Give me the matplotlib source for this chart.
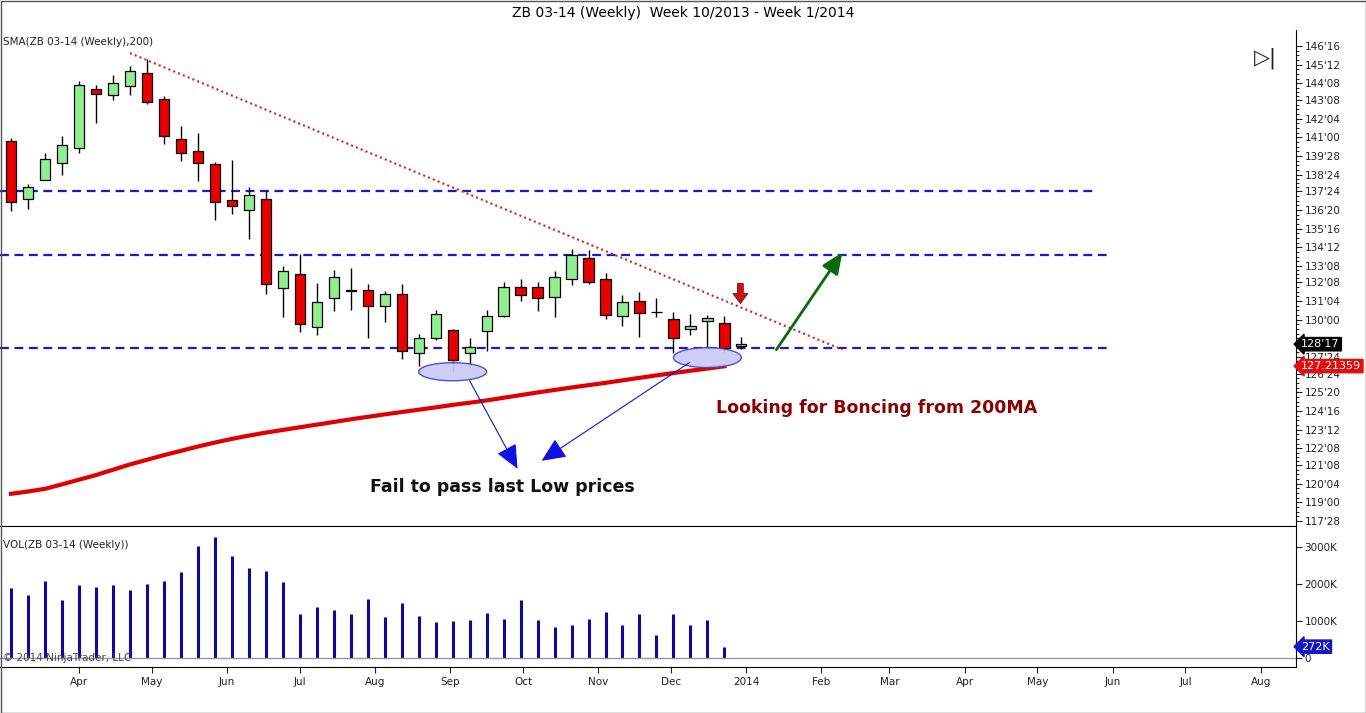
import matplotlib
matplotlib.use("Agg")
import matplotlib.pyplot as plt
import matplotlib.transforms as mtrans
from matplotlib.patches import Ellipse
import datetime as dt

# ---- data ----
opens  = [140.76,137.30,138.45,139.47,140.38,143.94,143.58,144.12,144.85,143.30,140.88,140.16,139.41,137.24,136.64,137.30,131.92,132.77,129.59,131.32,131.71,131.82,130.84,131.56,
          128.00,128.91,129.39,128.00,129.35,130.24,132.00,132.00,131.38,132.47,133.74,132.47,130.24,131.16,130.46,130.05,129.45,129.95,129.81,128.42]
closes = [137.10,138.00,139.72,140.56,144.14,143.64,144.25,144.99,143.14,141.11,140.08,139.47,137.10,136.88,137.50,132.17,132.97,129.75,131.08,132.61,131.80,130.84,131.56,128.14,
          128.91,130.36,127.58,128.36,130.24,132.00,131.50,131.32,132.61,133.88,132.27,130.30,131.10,130.42,130.46,128.91,129.61,130.12,128.28,128.53]
highs  = [140.98,138.17,140.08,141.07,144.39,144.14,144.75,145.29,145.75,143.48,141.67,141.27,139.51,139.62,138.00,137.74,133.27,133.98,132.21,133.03,133.15,132.13,131.76,132.17,
          129.15,130.60,129.45,128.89,130.60,132.27,132.43,132.27,132.97,134.28,134.22,132.83,131.52,131.70,131.30,130.46,130.36,130.26,130.20,128.99]
lows   = [136.56,136.70,138.41,138.71,140.06,141.87,143.24,143.54,142.99,140.62,139.57,138.37,136.03,136.39,134.88,131.56,130.19,129.25,129.11,130.52,130.60,128.91,129.85,127.64,
          127.24,128.79,126.93,127.18,128.10,130.15,131.16,130.52,130.15,132.11,132.13,130.06,129.61,128.95,130.15,127.98,129.09,128.30,128.08,128.24]
volumes_k = [1901,1694,2090,1559,1982,1928,1982,1847,2009,2090,2334,3036,3280,2748,2442,2361,2063,1198,1388,1306,1198,1604,1117,1496,
             1144,982,1009,1036,1225,1063,1577,1036,847,901,1063,1252,901,1198,631,1198,901,1036,306]
sma200 = [119.51,119.65,119.81,120.08,120.36,120.64,120.96,121.28,121.56,121.84,122.1,122.36,122.6,122.82,123.02,123.2,123.36,123.52,123.68,123.84,
          124.0,124.15,124.3,124.44,124.58,124.72,124.87,125.0,125.14,125.3,125.46,125.62,125.77,125.92,126.06,126.2,126.35,126.5,126.65,126.79,126.93,127.06,127.2]
levels = [137.74, 133.88, 128.32]
level_ends = [63.9, 64.8, 64.8]
trend = ([7.0, 48.94], [146.08, 128.2])
price_ticks = ["146'16","145'12","144'08","143'08","142'04","141'00","139'28","138'24","137'24","136'20","135'16","134'12",
               "133'08","132'08","131'04","130'00","128'28","127'24","126'24","125'20","124'16","123'12","122'08","121'08","120'04","119'00","117'28"]
hidden_ticks = ["128'28"]
vol_ticks = [0, 1000, 2000, 3000]
first_week = dt.date(2013, 3, 4)
month_labels = ["Apr","May","Jun","Jul","Aug","Sep","Oct","Nov","Dec","2014","Feb","Mar","Apr","May","Jun","Jul","Aug"]
month_dates = [dt.date(2013,m,1) for m in range(4,13)] + [dt.date(2014,m,1) for m in range(1,9)]

def p32(s):
    a, b = s.split("'")
    return int(a) + int(b)/32

W, H = 1366, 713
fig = plt.figure(figsize=(W/100, H/100), dpi=100)
fig.patch.set_facecolor("white")
ax = fig.add_axes([0, (H-526)/H, 1296/W, 496/H])
axv = fig.add_axes([0, (H-667)/H, 1296/W, 141/H], sharex=ax)
fig.text(0.5, 1-13/H, "ZB 03-14 (Weekly)  Week 10/2013 - Week 1/2014", ha="center", va="center", fontsize=10)

n = len(opens)
idx = list(range(n))
XL = (-0.647, 75.65)
for i in idx:
    o, c, h, l = opens[i], closes[i], highs[i], lows[i]
    ax.vlines(i, l, h, color="black", lw=1, zorder=3)
    col = "#90EE90" if c >= o else "#E80000"
    hgt = max(abs(c-o), 0.03)
    ax.bar(i, hgt, bottom=min(o, c), width=0.6, color=col, edgecolor="black", lw=0.9, zorder=4)
ax.plot(range(len(sma200)), sma200, color="#E00000", lw=3, zorder=5)
for lv, end in zip(levels, level_ends):
    ax.plot([XL[0], end], [lv, lv], color="#1A1ACC", lw=1.6, ls=(0, (4, 2.5)), zorder=2)
ax.plot(trend[0], trend[1], color="#E02020", lw=1.5, ls=(0, (1, 1.5)), zorder=2)

for cx, cy, w, hh in [(26.0, 126.87, 4.0, 1.09), (41.0, 127.72, 4.0, 1.2)]:
    ax.add_patch(Ellipse((cx, cy), w, hh, facecolor="#C8C8F4", edgecolor="#4040C0", lw=1, zorder=6, alpha=0.9))
ap = dict(arrowstyle="-|>,head_length=1.0,head_width=0.45", mutation_scale=15, lw=0.8, color="#1010E0", shrinkA=0, shrinkB=0)
ax.annotate("", xy=(29.82, 121.02), xytext=(27.0, 126.33), arrowprops=ap, zorder=7)
ax.annotate("", xy=(31.24, 121.5), xytext=(39.94, 127.42), arrowprops=ap, zorder=7)
ax.annotate("", xy=(48.94, 134.06), xytext=(45.06, 128.2),
            arrowprops=dict(arrowstyle="-|>,head_length=0.8,head_width=0.35", mutation_scale=16, lw=2, color="#0A6A0A", shrinkA=0, shrinkB=0))
ax.annotate("", xy=(42.94, 130.98), xytext=(42.94, 132.19),
            arrowprops=dict(arrowstyle="simple,head_width=0.9,head_length=0.6,tail_width=0.35", mutation_scale=12, fc="#D01010", ec="#801010", lw=0.6, shrinkA=0, shrinkB=0))
ax.text(28.94, 119.93, "Fail to pass last Low prices", ha="center", va="center", fontsize=12.5, fontweight="bold", color="#111111")
ax.text(50.94, 124.7, "Looking for Boncing from 200MA", ha="center", va="center", fontsize=12.5, fontweight="bold", color="#8B0000")
ax.text(0.002, 0.985, "SMA(ZB 03-14 (Weekly),200)", transform=ax.transAxes, ha="left", va="top", fontsize=7.5, color="#222222")
ax.text(0.985, 0.965, "\u25B7|", transform=ax.transAxes, ha="right", va="top", fontsize=15, color="#222222")

ax.set_xlim(*XL)
ax.set_ylim(117.57, 147.47)
ax.yaxis.tick_right()
tv = [p32(s) for s in price_ticks]
ax.set_yticks(tv)
ax.set_yticklabels(["" if s in hidden_ticks else s for s in price_ticks])
minor = []
for a, b in zip(tv[1:], tv[:-1]):
    minor += [a + (b-a)*k/4 for k in (1, 2, 3)]
ax.set_yticks(minor, minor=True)
ax.tick_params(axis="y", labelsize=7.5, length=4, pad=2, colors="#222222")
ax.tick_params(axis="y", which="minor", length=2.5)
ax.tick_params(axis="x", bottom=False, labelbottom=False)
for s in ["top", "left"]:
    ax.spines[s].set_visible(False)

blend = mtrans.blended_transform_factory(ax.transAxes, ax.transData)
ax.text(1.004, closes[-1], "128'17", transform=blend, ha="left", va="center", fontsize=8, color="white",
        bbox=dict(boxstyle="larrow,pad=0.15", fc="black", ec="black"), zorder=10, clip_on=False)
ax.text(1.004, 127.21, "127.21359", transform=blend, ha="left", va="center", fontsize=8, color="white",
        bbox=dict(boxstyle="larrow,pad=0.15", fc="#E01010", ec="#E01010"), zorder=10, clip_on=False)

axv.vlines(range(len(volumes_k)), 0, volumes_k, color="#0A0AA0", lw=2.2)
axv.axhline(0, color="#999999", lw=1)
axv.set_ylim(-243, 3568)
axv.yaxis.tick_right()
axv.set_yticks(vol_ticks)
axv.set_yticklabels(["0", "1000K", "2000K", "3000K"])
axv.tick_params(axis="y", labelsize=7.5, length=4, pad=2, colors="#222222")
for s in ["left"]:
    axv.spines[s].set_visible(False)
bv = mtrans.blended_transform_factory(axv.transAxes, axv.transData)
axv.text(1.004, volumes_k[-1], "272K", transform=bv, ha="left", va="center", fontsize=8, color="white",
         bbox=dict(boxstyle="larrow,pad=0.15", fc="#1515C8", ec="#1515C8"), zorder=10, clip_on=False)
axv.text(0.002, 0.9, "VOL(ZB 03-14 (Weekly))", transform=axv.transAxes, ha="left", va="top", fontsize=7.5, color="#222222")
axv.text(0.002, 0.03, "\u00A9 2014 NinjaTrader, LLC", transform=axv.transAxes, ha="left", va="bottom", fontsize=7.5, color="#444444")
mpos = [(d - first_week).days/7 for d in month_dates]
axv.set_xticks(mpos)
axv.set_xticklabels(month_labels)
axv.tick_params(axis="x", labelsize=7.5, length=4, colors="#222222")

fig.add_artist(plt.Rectangle((0.5/W, 0.5/H), 1-1/W, 1-1/H, transform=fig.transFigure, fill=False, ec="#555555", lw=1))
fig.savefig("out.png", dpi=100)
